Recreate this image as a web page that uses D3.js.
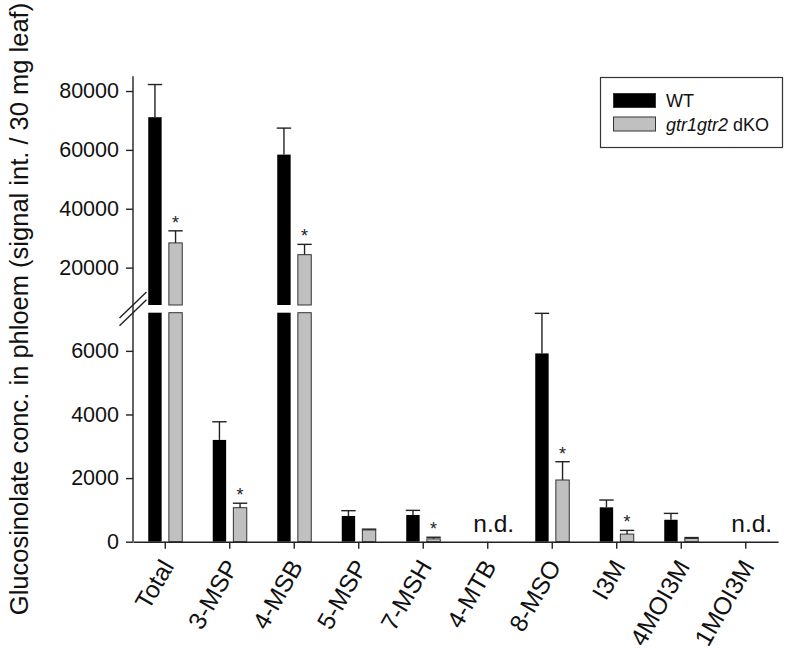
<!DOCTYPE html>
<html>
<head>
<meta charset="utf-8">
<script src="https://cdn.jsdelivr.net/npm/d3@7"></script>
<style>
    body { margin: 0; background: #fff; }
    svg { display: block; font-family: "Liberation Sans", Arial, Helvetica, sans-serif; }
</style>
</head>
<body>
<div id="chart"></div>
<script>
// Data; null = not detected
const categories = ['Total', '3-MSP', '4-MSB', '5-MSP', '7-MSH', '4-MTB', '8-MSO', 'I3M', '4MOI3M', '1MOI3M'];
const wtMean = [71100, 3200, 58400, 810, 840, null, 5920, 1080, 690, null];
const wtErr = [11100, 570, 9000, 165, 145, null, 1260, 230, 200, null];
const koMean = [28400, 1070, 24400, 370, 90, null, 1940, 240, 100, null];
const koErr = [4100, 140, 3500, 25, 50, null, 575, 115, 30, null];
const koSignificant = [true, true, true, false, true, false, true, true, false, false];
const lowerTicks = [0, 2000, 4000, 6000];
const upperTicks = [20000, 40000, 60000, 80000];
const seriesNames = ['WT', 'gtr1gtr2 dKO'];

// Configuration
const config = {
    width: 786,
    height: 654,
    axisX: 133,
    rightX: 778,
    lowerDomain: [0, 7200],
    lowerRange: [541.7, 312.7],
    upperDomain: [7300, 85000],
    upperRange: [305, 76.3],
    colors: ['#000000', '#c0c0c0'],
    ink: '#222'
};

const svg = d3.select('#chart')
    .append('svg')
    .attr('width', config.width)
    .attr('height', config.height);

// Scales
const x = d3.scaleBand()
    .domain(categories)
    .range([config.axisX, config.rightX])
    .padding(0);

const sub = d3.scaleBand()
    .domain(['wt', 'ko'])
    .range([-17, 17])
    .paddingInner(0.35);

const yLow = d3.scaleLinear().domain(config.lowerDomain).range(config.lowerRange);
const yHigh = d3.scaleLinear().domain(config.upperDomain).range(config.upperRange);

const breakLow = config.lowerDomain[1];

// Build bar records
const series = [
    { key: 'wt', mean: wtMean, err: wtErr, color: config.colors[0] },
    { key: 'ko', mean: koMean, err: koErr, color: config.colors[1] }
];

const bars = [];
series.forEach(s => {
    categories.forEach((c, i) => {
        if (s.mean[i] == null) return;
        bars.push({
            key: s.key, cat: c, value: s.mean[i], err: s.err[i], color: s.color,
            star: s.key === 'ko' && koSignificant[i]
        });
    });
});

const barX = d => x(d.cat) + x.bandwidth() / 2 + sub(d.key);
const topY = v => v > breakLow ? yHigh(v) : yLow(v);

// Bars: lower segment
const barG = svg.append('g');
barG.selectAll('rect.low')
    .data(bars)
    .enter()
    .append('rect')
    .attr('class', 'low')
    .attr('x', barX)
    .attr('width', sub.bandwidth())
    .attr('y', d => yLow(Math.min(d.value, breakLow)))
    .attr('height', d => yLow(0) - yLow(Math.min(d.value, breakLow)))
    .attr('fill', d => d.color)
    .attr('stroke', d => d.key === 'ko' ? '#333' : 'none')
    .attr('stroke-width', 1);

// Bars: upper segment for values past the break
barG.selectAll('rect.high')
    .data(bars.filter(d => d.value > breakLow))
    .enter()
    .append('rect')
    .attr('class', 'high')
    .attr('x', barX)
    .attr('width', sub.bandwidth())
    .attr('y', d => yHigh(d.value))
    .attr('height', d => yHigh(config.upperDomain[0]) - yHigh(d.value))
    .attr('fill', d => d.color)
    .attr('stroke', d => d.key === 'ko' ? '#333' : 'none')
    .attr('stroke-width', 1);

// Error bars (upper half only)
const errG = svg.append('g')
    .attr('stroke', config.ink)
    .attr('stroke-width', 1.4);

bars.forEach(d => {
    const cx = barX(d) + sub.bandwidth() / 2;
    const y1 = topY(d.value);
    const y2 = topY(d.value + d.err);
    errG.append('line')
        .attr('x1', cx).attr('x2', cx)
        .attr('y1', y1).attr('y2', y2);
    errG.append('line')
        .attr('x1', barX(d) - 0.5).attr('x2', barX(d) + sub.bandwidth() + 0.5)
        .attr('y1', y2).attr('y2', y2);
});

// Significance stars
svg.append('g')
    .selectAll('text')
    .data(bars.filter(d => d.star))
    .enter()
    .append('text')
    .attr('x', d => barX(d) + sub.bandwidth() / 2)
    .attr('y', d => topY(d.value + d.err) - 2)
    .attr('text-anchor', 'middle')
    .attr('font-size', 18)
    .attr('fill', config.ink)
    .text('*');

// n.d. labels
svg.append('g')
    .selectAll('text')
    .data(categories.filter((c, i) => wtMean[i] == null && koMean[i] == null))
    .enter()
    .append('text')
    .attr('x', d => x(d) + x.bandwidth() / 2 + 6)
    .attr('y', 532)
    .attr('text-anchor', 'middle')
    .attr('font-size', 24.5)
    .attr('fill', '#111')
    .text('n.d.');

// Axes
function styleAxis(g) {
    g.select('.domain').remove();
    g.selectAll('.tick line').attr('stroke', config.ink).attr('stroke-width', 1.4);
    g.selectAll('.tick text')
        .attr('font-size', 21.5)
        .attr('fill', '#111')
        .attr('font-family', '"Liberation Sans", Arial, sans-serif');
}

svg.append('g')
    .attr('transform', `translate(${config.axisX},0)`)
    .call(d3.axisLeft(yLow).tickValues(lowerTicks).tickSize(7).tickPadding(7).tickFormat(d3.format('d')))
    .call(styleAxis);

svg.append('g')
    .attr('transform', `translate(${config.axisX},0)`)
    .call(d3.axisLeft(yHigh).tickValues(upperTicks).tickSize(7).tickPadding(7).tickFormat(d3.format('d')))
    .call(styleAxis);

// Continuous y axis line
svg.append('line')
    .attr('x1', config.axisX).attr('x2', config.axisX)
    .attr('y1', config.upperRange[1]).attr('y2', config.lowerRange[0])
    .attr('stroke', config.ink).attr('stroke-width', 1.4);

// Break marks
[config.upperRange[0], config.lowerRange[1]].forEach(by => {
    svg.append('line')
        .attr('x1', config.axisX - 13.5).attr('y1', by + 13)
        .attr('x2', config.axisX + 13.5).attr('y2', by - 13)
        .attr('stroke', config.ink).attr('stroke-width', 1.4);
});

// X axis
const xAxisG = svg.append('g')
    .attr('transform', `translate(0,${config.lowerRange[0]})`)
    .call(d3.axisBottom(x).tickSize(7).tickSizeOuter(0).tickFormat(''));
xAxisG.select('.domain').attr('stroke', config.ink).attr('stroke-width', 1.4);
xAxisG.selectAll('.tick line').attr('stroke', config.ink).attr('stroke-width', 1.4);

svg.append('g')
    .selectAll('text')
    .data(categories)
    .enter()
    .append('text')
    .attr('transform', d => `translate(${x(d) + x.bandwidth() / 2 + 2},562) rotate(-60)`)
    .attr('text-anchor', 'end')
    .attr('dy', '0.35em')
    .attr('font-size', 24.5)
    .attr('fill', '#111')
    .text(d => d);

// Y axis title
svg.append('text')
    .attr('transform', 'translate(28,309) rotate(-90)')
    .attr('text-anchor', 'middle')
    .attr('font-size', 25.5)
    .attr('fill', '#111')
    .text('Glucosinolate conc. in phloem (signal int. / 30 mg leaf)');

// Legend
const legend = svg.append('g');
legend.append('rect')
    .attr('x', 600.5).attr('y', 77.5)
    .attr('width', 182).attr('height', 70)
    .attr('fill', '#fff')
    .attr('stroke', '#333').attr('stroke-width', 1.2);

series.forEach((s, i) => {
    const ly = 93.5 + i * 23.5;
    legend.append('rect')
        .attr('x', 613.5).attr('y', ly)
        .attr('width', 42).attr('height', 14)
        .attr('fill', s.color)
        .attr('stroke', '#333').attr('stroke-width', 1);
});

legend.append('text')
    .attr('x', 666).attr('y', 107)
    .attr('font-size', 18).attr('fill', '#111')
    .text(seriesNames[0]);

const koLabel = legend.append('text')
    .attr('x', 666).attr('y', 131)
    .attr('font-size', 18).attr('fill', '#111');
koLabel.append('tspan').attr('font-style', 'italic').text(seriesNames[1].split(' ')[0]);
koLabel.append('tspan').text(' ' + seriesNames[1].split(' ')[1]);
</script>
</body>
</html>
